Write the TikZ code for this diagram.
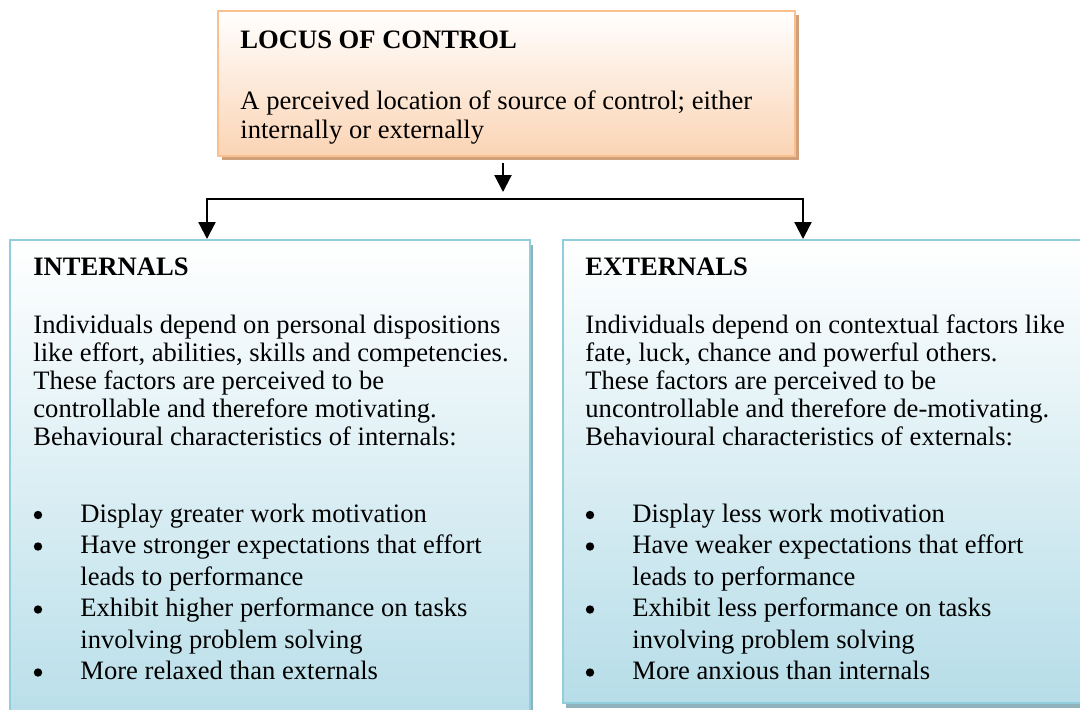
\documentclass[tikz,border=0pt]{standalone}
\usepackage{fontspec}
\setmainfont{Liberation Serif}
\usetikzlibrary{arrows.meta,shadows,fit}

\definecolor{peachline}{HTML}{FAC08F}
\definecolor{peachfill}{HTML}{FBD4B4}
\definecolor{peachshadow}{HTML}{CFA07A}
\definecolor{aqualine}{HTML}{92CDDC}
\definecolor{aquafill}{HTML}{B6DDE8}
\definecolor{aquashadow}{HTML}{8FB2BC}

\begin{document}
\begin{tikzpicture}[x=0.5pt,y=-0.5pt,
  txt/.style={anchor=base west,inner sep=0pt,font=\fontsize{13.3}{15}\selectfont},
  head/.style={txt,font=\fontsize{13.3}{15}\selectfont\bfseries},
  dot/.style={circle,fill=black,inner sep=0pt,minimum size=4.2pt},
  topbox/.style={rectangle,inner sep=0pt,draw=peachline,line width=1pt,
    top color=white,bottom color=peachfill,
    drop shadow={shadow xshift=2pt,shadow yshift=-2pt,fill=peachshadow,opacity=1}},
  sidebox/.style={rectangle,inner sep=0pt,draw=aqualine,line width=1pt,
    top color=white,bottom color=aquafill,
    drop shadow={shadow xshift=1.5pt,shadow yshift=-2.5pt,fill=aquashadow,opacity=1}},
  conn/.style={line width=1.1pt,black},
  head tip/.tip={Triangle[length=8.5pt,width=8.5pt]},
  tip/.style={-{head tip}}]

\clip (0,0) rectangle (1080,709);

% boxes
\node[topbox,fit={(218,11) (795,156)}] (top) {};
\node[sidebox,fit={(10,240) (530,740)}] (left) {};
\node[sidebox,fit={(563,240) (1100,703)}] (right) {};

% connectors
\coordinate (hub) at (503,199);
\coordinate (hubtip) at (503,192);
\coordinate (jl) at (207,199);
\coordinate (jr) at (803,199);
\draw[conn,tip] ([yshift=-3pt]top.south -| hub) -- (hubtip);
\draw[conn,{head tip}-{head tip}]
  (jl |- left.north) -- (jl) -- (jr) -- (jr |- right.north);

% top box text
\node[head] (th) at (240,48) {LOCUS OF CONTROL};
\node[txt] (t1) at (240,109) {A perceived location of source of control; either};
\node[txt] (t2) at (240,138) {internally or externally};

% internals
\node[head] (lh) at (33,275) {INTERNALS};
\node[txt] (lp1) at (33,333) {Individuals depend on personal dispositions};
\node[txt] (lp2) at (33,361) {like effort, abilities, skills and competencies.};
\node[txt] (lp3) at (33,389) {These factors are perceived to be};
\node[txt] (lp4) at (33,417) {controllable and therefore motivating.};
\node[txt] (lp5) at (33,445) {Behavioural characteristics of internals:};
\node[dot] (lb1) at (38,515) {};
\node[txt] (ll1) at (80,522) {Display greater work motivation};
\node[dot] (lb2) at (38,546.5) {};
\node[txt] (ll2) at (80,553.5) {Have stronger expectations that effort};
\node[txt] (ll3) at (80,585) {leads to performance};
\node[dot] (lb3) at (38,609.5) {};
\node[txt] (ll4) at (80,616.5) {Exhibit higher performance on tasks};
\node[txt] (ll5) at (80,648) {involving problem solving};
\node[dot] (lb4) at (38,672.5) {};
\node[txt] (ll6) at (80,679.5) {More relaxed than externals};

% externals
\node[head] (rh) at (585,275) {EXTERNALS};
\node[txt] (rp1) at (585,333) {Individuals depend on contextual factors like};
\node[txt] (rp2) at (585,361) {fate, luck, chance and powerful others.};
\node[txt] (rp3) at (585,389) {These factors are perceived to be};
\node[txt] (rp4) at (585,417) {uncontrollable and therefore de-motivating.};
\node[txt] (rp5) at (585,445) {Behavioural characteristics of externals:};
\node[dot] (rb1) at (590,515) {};
\node[txt] (rl1) at (632,522) {Display less work motivation};
\node[dot] (rb2) at (590,546.5) {};
\node[txt] (rl2) at (632,553.5) {Have weaker expectations that effort};
\node[txt] (rl3) at (632,585) {leads to performance};
\node[dot] (rb3) at (590,609.5) {};
\node[txt] (rl4) at (632,616.5) {Exhibit less performance on tasks};
\node[txt] (rl5) at (632,648) {involving problem solving};
\node[dot] (rb4) at (590,672.5) {};
\node[txt] (rl6) at (632,679.5) {More anxious than internals};
\end{tikzpicture}
\end{document}
